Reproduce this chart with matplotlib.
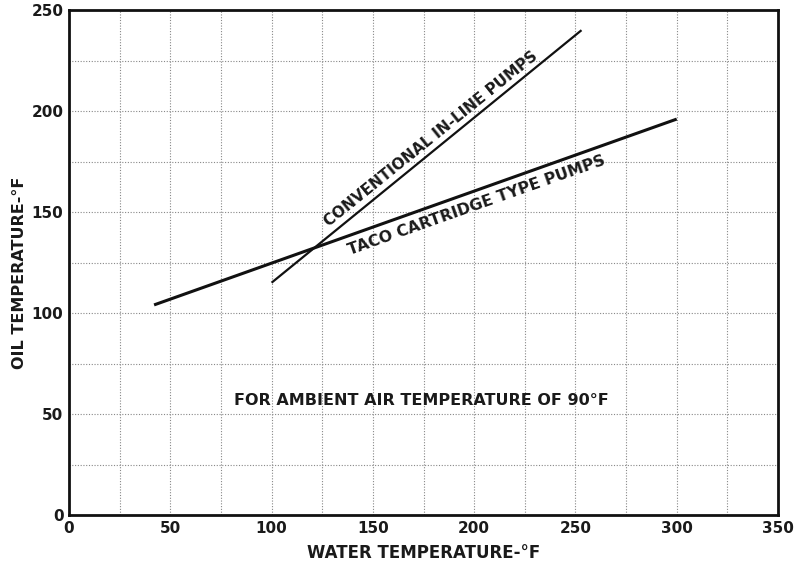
import matplotlib
matplotlib.use("Agg")
import matplotlib.pyplot as plt
import numpy as np

# Data
taco_x = [42, 300]
taco_y = [104, 196]
conv_x = [100, 253]
conv_y = [115, 240]
x_ticks = [0, 50, 100, 150, 200, 250, 300, 350]
y_ticks = [0, 50, 100, 150, 200, 250]
grid_step = 25

W, H = 801, 564
fig = plt.figure(figsize=(W/100, H/100), dpi=100)
ax = fig.add_axes([69/W, 1 - 515/H, (778-69)/W, (515-10)/H])

ax.set_xlim(0, 350)
ax.set_ylim(0, 250)

# Dotted grid every 25
for gx in np.arange(grid_step, 350, grid_step):
    ax.axvline(gx, color="#888888", lw=0.8, ls=(0, (1, 1.5)), zorder=1)
for gy in np.arange(grid_step, 250, grid_step):
    ax.axhline(gy, color="#888888", lw=0.8, ls=(0, (1, 1.5)), zorder=1)

ax.plot(taco_x, taco_y, color="#111111", lw=2.2, solid_capstyle="butt", zorder=3)
ax.plot(conv_x, conv_y, color="#111111", lw=1.6, solid_capstyle="butt", zorder=3)

for s in ax.spines.values():
    s.set_linewidth(2.0)
    s.set_color("#111111")

font = dict(family="DejaVu Sans", weight="bold", color="#1a1a1a")
ax.set_xticks(x_ticks)
ax.set_yticks(y_ticks)
ax.set_xticklabels([str(v) for v in x_ticks], fontsize=11, **font)
ax.set_yticklabels([str(v) for v in y_ticks], fontsize=11, **font)
ax.tick_params(length=0, pad=4)

fig.text(424/W, 1 - 553/H, "WATER TEMPERATURE-°F", fontsize=12,
         ha="center", va="center", **font)
fig.text(20/W, 1 - 273/H, "OIL TEMPERATURE-°F", fontsize=11.5, rotation=90,
         ha="center", va="center", **font)

ax.text(174, 56.5, "FOR AMBIENT AIR TEMPERATURE OF 90°F", fontsize=11.5,
        ha="center", va="center", **font)
ax.text(178.5, 186, "CONVENTIONAL IN-LINE PUMPS", fontsize=11, rotation=38.9,
        rotation_mode="anchor", ha="center", va="center", **font)
ax.text(201, 153.5, "TACO CARTRIDGE TYPE PUMPS", fontsize=11.3, rotation=19.5,
        rotation_mode="anchor", ha="center", va="center", **font)

fig.savefig("out.png", dpi=100)
